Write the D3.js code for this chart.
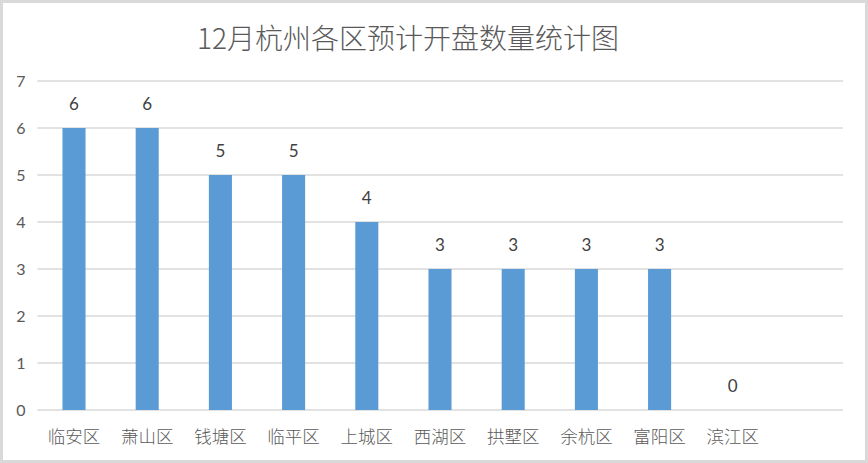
<!DOCTYPE html>
<html><head><meta charset="utf-8">
<script src="https://cdn.jsdelivr.net/npm/d3@7"></script>
<style>body{margin:0;background:#fff}svg{display:block}</style>
</head><body>
<svg id="c" width="868" height="463"></svg>
<script>
const categories = ["临安区","萧山区","钱塘区","临平区","上城区","西湖区","拱墅区","余杭区","富阳区","滨江区"];
const values = [6,6,5,5,4,3,3,3,3,0];
const yTicks = [0,1,2,3,4,5,6,7];
const title = "12月杭州各区预计开盘数量统计图";

const svg = d3.select("#c");
const W = 868, H = 463;
svg.append("rect").attr("x",1.5).attr("y",1.5).attr("width",W-3).attr("height",H-3)
  .attr("fill","#fff").attr("stroke","#d9d9d9").attr("stroke-width",3);

const left = 37.4, bandW = 73.2, gridRight = 843;
const x = d3.scaleBand().domain(categories).range([left, left + bandW*categories.length]).paddingInner(0.685).paddingOuter(0.3425);
const y = d3.scaleLinear().domain([0,7]).range([410,81]);

// gridlines
svg.append("g").selectAll("line").data(yTicks).join("line")
  .attr("x1",left).attr("x2",gridRight)
  .attr("y1",d=>y(d)).attr("y2",d=>y(d))
  .attr("stroke","#d9d9d9").attr("stroke-width",1.5);

// y tick labels
svg.append("g").selectAll("text").data(yTicks).join("text")
  .attr("x",21).attr("y",d=>y(d)).attr("dy","0.35em").attr("text-anchor","middle")
  .attr("font-family","Lato, Liberation Sans").attr("font-size",16).attr("fill","#595959")
  .text(d=>d);

// bars
svg.append("g").selectAll("rect").data(values).join("rect")
  .attr("x",(d,i)=>x(categories[i])).attr("width",x.bandwidth())
  .attr("y",d=>y(d)).attr("height",d=>y(0)-y(d))
  .attr("fill","#5b9bd5");

// value labels
svg.append("g").selectAll("text").data(values).join("text")
  .attr("x",(d,i)=>x(categories[i])+x.bandwidth()/2).attr("y",d=>y(d)-18)
  .attr("text-anchor","middle").attr("font-family","Lato, Liberation Sans").attr("font-size",17).attr("fill","#404040")
  .text(d=>d);

// category labels
svg.append("g").selectAll("text").data(categories).join("text")
  .attr("x",d=>x(d)+x.bandwidth()/2).attr("y",443)
  .attr("text-anchor","middle").attr("font-family","Noto Sans CJK SC").attr("font-size",17.5).attr("font-weight",300).attr("fill","#595959")
  .text(d=>d);

// title
svg.append("text").attr("x",408).attr("y",49).attr("text-anchor","middle")
  .attr("font-family","Noto Sans CJK SC").attr("font-size",28).attr("font-weight",300).attr("fill","#595959").text(title);
</script>
</body></html>
